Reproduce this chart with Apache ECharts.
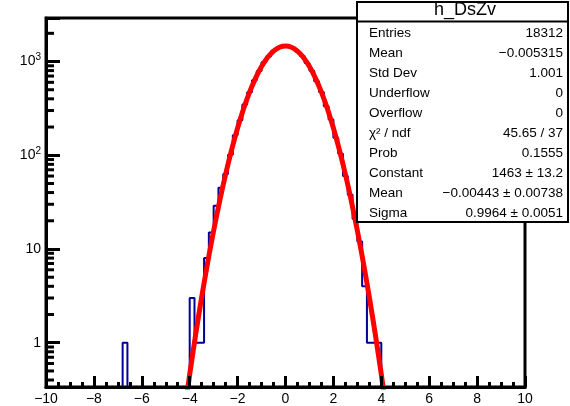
<!DOCTYPE html>
<html><head><meta charset="utf-8">
<script src="https://cdn.jsdelivr.net/npm/echarts@6/dist/echarts.min.js"></script>
<style>html,body{margin:0;padding:0;background:#fff}#c{width:570px;height:406px}</style>
</head><body><div id="c"></div>
<script>
// ---- data ----
const histMin = -10, histMax = 10;
const counts = [
  0,0,0,0,0,0,0,0,0,0, 0,0,0,0,0,0,1,0,0,0,
  0,0,0,0,0,0,0,0,0,0, 3,1,1,8,15,29,45,63,101,163,
  236,349,470,632,793,982,1141,1301,1392,1462, 1448,1404,1280,1146,962,798,615,472,333,240,
  154,104,60,38,21,12,4,1,1,1, 0,0,0,0,0,0,0,0,0,0,
  0,0,0,0,0,0,0,0,0,0, 0,0,0,0,0,0,0,0,0,0
];
const fitX = [-4.25,-4,-3.75,-3.5,-3.25,-3,-2.75,-2.5,-2.25,-2,-1.75,-1.5,-1.25,-1,-0.75,-0.5,-0.25,0,
              0.25,0.5,0.75,1,1.25,1.5,1.75,2,2.25,2.5,2.75,3,3.25,3.5,3.75,4,4.25];
const fitY = [0.16,0.46,1.23,3.06,7.16,15.7,32.4,62.8,114,195,313,471,666,884,1102,1290,1418,1463,
              1418,1290,1102,884,666,471,313,195,114,62.8,32.4,15.7,7.16,3.06,1.23,0.46,0.16];
const yMin = 0.337, yMax = 2913;
const yMinorTicks = [0.4,0.5,0.6,0.7,0.8,0.9,2,3,4,5,6,7,8,9,20,30,40,50,60,70,80,90,
                     200,300,400,500,600,700,800,900,2000];
const statsTitle = 'h_DsZv';
const statsLabels = ['Entries','Mean','Std Dev','Underflow','Overflow','\u03c7\u00b2 / ndf','Prob','Constant','Mean','Sigma'];
const statsValues = ['18312','\u22120.005315','1.001','0','0','45.65 / 37','0.1555','1463 \u00b1 13.2','\u22120.00443 \u00b1 0.00738','0.9964 \u00b1 0.0051'];

// ---- build ----
const nb = counts.length, bw = (histMax - histMin) / nb;
let f = counts.findIndex(v => v > 0), l = nb - 1;
while (l > 0 && counts[l] === 0) l--;
const histPts = [[histMin + f * bw, yMin]];
for (let i = f; i <= l; i++) {
  const v = counts[i] > 0 ? counts[i] : yMin;
  histPts.push([histMin + i * bw, v], [histMin + (i + 1) * bw, v]);
}
histPts.push([histMin + (l + 1) * bw, yMin]);
const fitPts = fitX.map((x, i) => [x, fitY[i]]);

const FONT = 'Liberation Sans, Arial, sans-serif';
const chart = echarts.init(document.getElementById('c'), null, {renderer: 'canvas'});

const graphics = [
  {type:'rect', z:100, shape:{x:357,y:2,width:211,height:220}, style:{fill:'#fff',stroke:'#000',lineWidth:2}},
  {type:'line', z:101, shape:{x1:357,y1:21.5,x2:568,y2:21.5}, style:{stroke:'#000',lineWidth:2}},
  {type:'text', z:101, x:465, y:10, style:{text:statsTitle, font:'18px '+FONT, fill:'#000', align:'center', verticalAlign:'middle'}}
];
statsLabels.forEach((t, k) => {
  graphics.push({type:'text', z:101, x:369, y:33 + 20*k, style:{text:t, font:'13.5px '+FONT, fill:'#000', align:'left', verticalAlign:'middle'}});
  graphics.push({type:'text', z:101, x:563, y:33 + 20*k, style:{text:statsValues[k], font:'13.5px '+FONT, fill:'#000', align:'right', verticalAlign:'middle'}});
});

chart.setOption({
  animation: false,
  backgroundColor: '#fff',
  grid: {left:46, right:45, top:18, bottom:19, show:true, borderColor:'#000', borderWidth:3, backgroundColor:'transparent'},
  xAxis: {
    type:'value', min:histMin, max:histMax, interval:2, z:10,
    axisLine:{show:true, onZero:false, lineStyle:{color:'#000', width:3}},
    axisTick:{show:true, inside:true, length:11, lineStyle:{color:'#000', width:3}},
    minorTick:{show:true, splitNumber:4, length:5, lineStyle:{color:'#000', width:3}},
    splitLine:{show:false}, minorSplitLine:{show:false},
    axisLabel:{margin:5, fontSize:14, fontFamily:FONT, color:'#000',
      formatter: v => (v < 0 ? '\u2212' + Math.abs(v) : String(v))}
  },
  yAxis: {
    type:'log', logBase:10, min:yMin, max:yMax, z:10,
    axisLine:{show:true, onZero:false, lineStyle:{color:'#000', width:3}},
    axisTick:{show:true, inside:true, length:14, lineStyle:{color:'#000', width:3}},
    splitLine:{show:false},
    axisLabel:{margin:5, fontSize:14, fontFamily:FONT, color:'#000',
      formatter: v => {
        const e = Math.log10(v), r = Math.round(e);
        if (Math.abs(e - r) > 1e-6) return '';
        if (r === 0) return '1';
        if (r === 1) return '10';
        return '10{s|' + r + '}';
      },
      rich:{s:{fontSize:10, fontFamily:FONT, color:'#000', verticalAlign:'top', padding:[0,0,8,0]}}
    }
  },
  series: [
    {type:'line', data:histPts, showSymbol:false, symbol:'none', z:2, clip:true,
      lineStyle:{color:'#000099', width:2}},
    {type:'line', data:fitPts, showSymbol:false, symbol:'none', smooth:0.3, z:3, clip:true,
      lineStyle:{color:'#ff0000', width:5}},
    {type:'custom', z:11, clip:false, data: yMinorTicks.map(v => [histMin, v]),
      renderItem: (params, api) => {
        const p = api.coord([api.value(0), api.value(1)]);
        return {type:'line', shape:{x1:p[0], y1:p[1], x2:p[0]+8, y2:p[1]}, style:{stroke:'#000', lineWidth:3}};
      }}
  ],
  graphic: graphics
});
</script></body></html>
